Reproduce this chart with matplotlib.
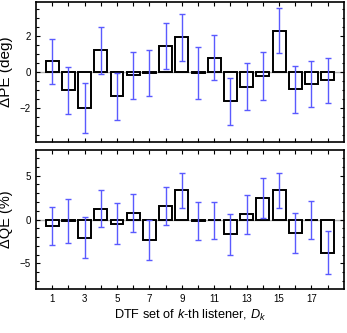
import matplotlib
matplotlib.use("Agg")
import matplotlib.pyplot as plt
import numpy as np
from matplotlib.ticker import MultipleLocator

plt.rcParams['font.family'] = ['Liberation Sans', 'DejaVu Sans']
plt.rcParams['mathtext.fontset'] = 'custom'
plt.rcParams['mathtext.rm'] = 'Liberation Sans'
plt.rcParams['mathtext.it'] = 'Liberation Sans:italic'

listeners = list(range(1, 19))
pe_mean = [0.6, -1.03, -2.02, 1.2, -1.36, -0.19, -0.05, 1.46, 1.93, -0.06,
           0.79, -1.63, -0.82, -0.22, 2.3, -0.97, -0.67, -0.47]
pe_sd = [1.26, 1.3, 1.39, 1.33, 1.3, 1.29, 1.28, 1.29, 1.29, 1.45,
         1.26, 1.32, 1.32, 1.33, 1.26, 1.3, 1.28, 1.26]
qe_mean = [-0.72, -0.2, -2.05, 1.25, -0.49, 0.72, -2.35, 1.55, 3.3, -0.15,
           -0.08, -1.7, 0.61, 2.42, 3.3, -1.55, -0.06, -3.79]
qe_sd = [2.16, 2.48, 2.3, 2.12, 2.33, 2.18, 2.25, 2.2, 2.0, 2.15,
         2.1, 2.38, 2.23, 2.25, 2.0, 2.3, 2.2, 2.44]
xtick_labels = [str(k) if k % 2 == 1 else '' for k in listeners]

fig = plt.figure(figsize=(3.47, 3.33), dpi=100)
ax1 = fig.add_axes([0.1037, 0.5736, 0.8873, 0.4204])
ax2 = fig.add_axes([0.1037, 0.1321, 0.8873, 0.4174])

blue = '#5a5aff'

def draw(ax, mean, sd, ylim, major, minor, ylabel, lsize):
    ax.axhline(0, color='#b0b0b0', lw=1.0, zorder=1)
    ax.bar(listeners, mean, width=0.8, facecolor='white', edgecolor='black',
           linewidth=1.4, zorder=2)
    ax.errorbar(listeners, mean, yerr=sd, fmt='none', ecolor=blue, elinewidth=1.0,
                capsize=2.5, capthick=1.0, zorder=3)
    ax.set_xlim(0, 19)
    ax.set_ylim(*ylim)
    ax.set_xticks(listeners)
    ax.yaxis.set_major_locator(MultipleLocator(major))
    ax.yaxis.set_minor_locator(MultipleLocator(minor))
    ax.tick_params(axis='both', which='both', direction='in', top=True, right=True,
                   labelsize=7)
    ax.tick_params(which='major', length=3, width=0.8)
    ax.tick_params(which='minor', length=1.8, width=0.8)
    ax.set_ylabel(ylabel, fontsize=lsize)
    ax.yaxis.set_label_coords(-0.075, 0.5)
    for s in ax.spines.values():
        s.set_linewidth(1.2)

draw(ax1, pe_mean, pe_sd, (-3.9, 3.9), 2, 0.5, 'ΔPE (deg)', 11)
draw(ax2, qe_mean, qe_sd, (-7.9, 7.9), 5, 1, 'ΔQE (%)', 10.5)
ax1.set_xticklabels([])
ax2.set_xticklabels(xtick_labels)
ax2.set_xlabel(r'DTF set of $k$-th listener, $D_k$', fontsize=9.2, labelpad=3)

fig.savefig('out.png', dpi=100)
